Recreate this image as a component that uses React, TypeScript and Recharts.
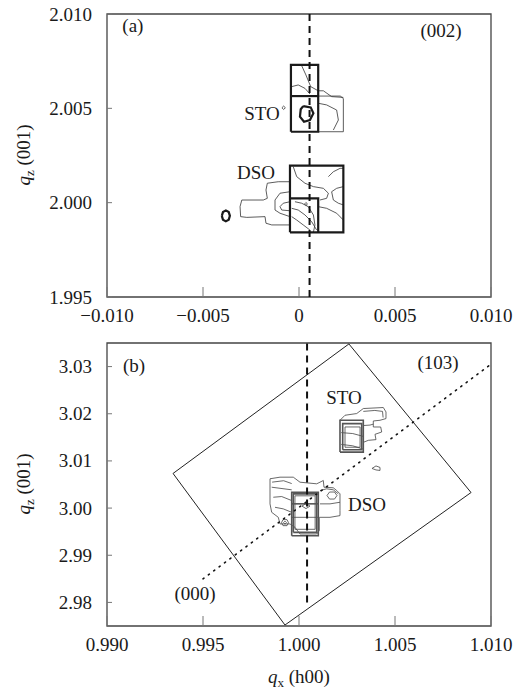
import React from 'react';
import { ComposedChart, Line, XAxis, YAxis, ReferenceLine, ReferenceArea, ReferenceDot } from 'recharts';

type P = [number, number];
const pts = (a: P[]) => a.map(([x, y]) => ({ x, y }));

// ---------- axis ticks ----------
const topXTicks = [-0.01, -0.005, 0, 0.005, 0.01];
const topXLabels = ['\u22120.010', '\u22120.005', '0', '0.005', '0.010'];
const topYTicks = [1.995, 2.0, 2.005, 2.01];
const topYLabels = ['1.995', '2.000', '2.005', '2.010'];
const botXTicks = [0.99, 0.995, 1.0, 1.005, 1.01];
const botXLabels = ['0.990', '0.995', '1.000', '1.005', '1.010'];
const botYTicks = [2.98, 2.99, 3.0, 3.01, 3.02, 3.03];
const botYLabels = ['2.98', '2.99', '3.00', '3.01', '3.02', '3.03'];

// ---------- panel (a): (002) contours ----------
const stoRect: P[] = [[-0.00042, 2.00376], [-0.00042, 2.0073], [0.001, 2.0073], [0.001, 2.00376], [-0.00042, 2.00376]];
const stoMid: P[] = [[-0.00042, 2.00565], [0.001, 2.00565]];
const stoHex: P[] = [[0.00022, 2.00512], [0.00061, 2.00505], [0.00075, 2.00474], [0.00057, 2.00438], [0.00026, 2.00429], [0.00005, 2.00456], [0.00009, 2.00495], [0.00022, 2.00512]];
const stoExt: P[] = [[0.001, 2.00565], [0.00215, 2.00565], [0.00231, 2.00552], [0.00231, 2.00376], [0.001, 2.00376]];
const stoC1: P[] = [[0.00014, 2.00726], [0.00036, 2.00677], [0.00061, 2.00615], [0.001, 2.00593], [0.00127, 2.00593], [0.0017, 2.00562], [0.00231, 2.00558]];
const stoC2: P[] = [[-0.00038, 2.00615], [-0.00004, 2.00624], [0.00031, 2.00606], [0.00057, 2.00576]];
const stoC3: P[] = [[0.001, 2.00527], [0.00144, 2.00518], [0.00196, 2.00491], [0.00205, 2.00438], [0.00179, 2.00385]];
const stoDot: P[] = [[-0.00089, 2.00503], [-0.0008, 2.00512], [-0.00071, 2.00503], [-0.0008, 2.00494], [-0.00089, 2.00503]];

const dsoRect: P[] = [[-0.00047, 1.99843], [-0.00047, 2.00196], [0.00231, 2.00196], [0.00231, 1.99843], [-0.00047, 1.99843]];
const dsoInner: P[] = [[-0.00047, 2.00023], [0.001, 2.00023], [0.001, 1.99843]];
const dsoSpot: P[] = [[-0.00402, 1.9993], [-0.00396, 1.9995], [-0.00381, 1.99959], [-0.00366, 1.9995], [-0.0036, 1.9993], [-0.00366, 1.9991], [-0.00381, 1.99901], [-0.00396, 1.9991], [-0.00402, 1.9993]];
const dsoL1: P[] = [[-0.00047, 2.00111], [-0.00108, 2.00111], [-0.00165, 2.00103], [-0.00172, 2.00067], [-0.00165, 2.00023], [-0.00186, 2.00014], [-0.00298, 2.00014], [-0.00307, 1.99979], [-0.00304, 1.99926], [-0.00272, 1.99922], [-0.00177, 1.99926], [-0.00172, 1.99891], [-0.00142, 1.99882], [-0.00047, 1.99882]];
const dsoL2: P[] = [[-0.00047, 2.00058], [-0.00099, 2.0005], [-0.00125, 2.00014], [-0.00125, 1.99961], [-0.00099, 1.99944], [-0.00047, 1.99926]];
const dsoL3: P[] = [[-0.00047, 2.00005], [-0.00082, 1.99997], [-0.00099, 1.99979], [-0.0009, 1.99961], [-0.00047, 1.99957]];
const dsoA: P[] = [[-0.0003, 2.00191], [-0.00012, 2.00138], [0.00031, 2.00103], [0.00075, 2.00085], [0.00127, 2.00076], [0.00153, 2.0005], [0.00144, 2.00023], [0.00109, 2.00014]];
const dsoB: P[] = [[0.00153, 2.00138], [0.00179, 2.00164], [0.00214, 2.00182], [0.00231, 2.00182]];
const dsoC: P[] = [[0.00231, 2.00085], [0.00196, 2.00076], [0.0017, 2.00058], [0.00179, 2.00014], [0.00205, 1.99997], [0.00231, 1.99988]];
const dsoD: P[] = [[-0.00038, 1.99926], [-0.00012, 1.99908], [0.00022, 1.99882], [0.00057, 1.99855]];
const dsoE: P[] = [[-0.00038, 1.9997], [-0.00004, 1.99961], [0.00031, 1.99935], [0.00066, 1.99899], [0.00092, 1.99855]];
const dsoF: P[] = [[-0.00021, 2.00005], [0.00014, 1.99997], [0.00048, 1.99979], [0.00075, 1.99935], [0.00083, 1.99882], [0.00075, 1.99843]];
const dsoG: P[] = [[0.001, 1.99979], [0.00144, 1.9997], [0.00196, 1.99944], [0.00231, 1.99908]];
const dsoQ: P[] = [[0.00029, 1.99993], [0.00036, 2.00001], [0.00044, 1.99993], [0.00036, 1.99985], [0.00029, 1.99993]];

const topThick = [stoRect, stoMid, stoHex, dsoRect, dsoInner, dsoSpot];
const topThin = [stoExt, stoC1, stoC2, stoC3, stoDot, dsoL1, dsoL2, dsoL3, dsoA, dsoB, dsoC, dsoD, dsoE, dsoF, dsoG, dsoQ];

// ---------- panel (b): (103) contours ----------
const bStoRect: P[] = [[1.002135, 3.011872], [1.002135, 3.018617], [1.003349, 3.018617], [1.003349, 3.011872], [1.002135, 3.011872]];
const bStoRect2: P[] = [[1.002276, 3.012383], [1.002276, 3.017915], [1.003266, 3.017915], [1.003266, 3.012383], [1.002276, 3.012383]];
const bStoRect3: P[] = [[1.002396, 3.0129], [1.002396, 3.0172], [1.00318, 3.0172], [1.00318, 3.0129], [1.002396, 3.0129]];
const bStoOut: P[] = [[1.002135, 3.018617], [1.002396, 3.019681], [1.003005, 3.020043], [1.003349, 3.021106], [1.004391, 3.021319], [1.004531, 3.020383], [1.004531, 3.018979], [1.004219, 3.018617], [1.00387, 3.018468], [1.00387, 3.017191], [1.004255, 3.017191], [1.004307, 3.016128], [1.003958, 3.015638], [1.00401, 3.014511], [1.003609, 3.014362], [1.003385, 3.014]];
const bStoIn1: P[] = [[1.0022, 3.016], [1.0028, 3.0158], [1.003349, 3.0152]];
const bStoIn2: P[] = [[1.0022, 3.0135], [1.0028, 3.0132], [1.003349, 3.0125]];
const bStoIn3: P[] = [[1.003349, 3.0175], [1.0037, 3.0176], [1.00387, 3.0178]];
const bStoIn4: P[] = [[1.003349, 3.0205], [1.00395, 3.0207], [1.00435, 3.0205], [1.00438, 3.0192]];
const bStoLens: P[] = [[1.003802, 3.008404], [1.00401, 3.008936], [1.004219, 3.008617], [1.004219, 3.007979], [1.00401, 3.008085], [1.003802, 3.008404]];

const bDsoOut: P[] = [[0.99849, 3.006213], [0.99901, 3.006553], [0.999703, 3.006553], [1.000052, 3.005489], [1.000922, 3.005149], [1.001094, 3.005489], [1.001266, 3.005851], [1.001302, 3.004426], [1.001786, 3.004298], [1.001964, 3.003723], [1.002135, 3.003021], [1.002135, 2.999468], [1.002135, 2.998404], [1.001615, 2.998043], [1.001057, 2.998043], [1.001057, 2.995213], [1.000922, 2.994511], [1.000052, 2.994511], [0.999792, 2.995915], [0.999531, 2.996638], [0.99901, 2.996638], [0.998922, 2.998043], [0.998578, 2.999106], [0.99849, 3.000894], [0.99849, 3.006213]];
const bDsoRect: P[] = [[0.99962, 2.994149], [0.99962, 3.003362], [1.001005, 3.003362], [1.001005, 2.994149], [0.99962, 2.994149]];
const bDsoRect2: P[] = [[0.999703, 2.994851], [0.999703, 3.003021], [1.000922, 3.003021], [1.000922, 2.994851], [0.999703, 2.994851]];
const bDsoRect3: P[] = [[0.99979, 2.9955], [0.99979, 3.0026], [1.00084, 3.0026], [1.00084, 2.9955], [0.99979, 2.9955]];
const bDsoMid: P[] = [[0.99962, 3.0009], [1.001005, 3.0009]];
const bDsoLow: P[] = [[0.99962, 2.99804], [1.001005, 2.99804]];
const bDsoL1: P[] = [[0.998578, 3.004426], [0.99962, 3.003872]];
const bDsoL2: P[] = [[0.998661, 3.002298], [0.999099, 3.002447], [0.99962, 3.001596]];
const bDsoL3: P[] = [[0.99875, 3.00017], [0.999182, 2.99983], [0.99962, 2.999106]];
const bDsoL4: P[] = [[0.99860, 3.0055], [0.99920, 3.0058], [0.99962, 3.0052]];
const bDsoR1: P[] = [[1.001094, 3.003723], [1.001443, 3.004085], [1.001786, 3.003872], [1.002047, 3.003021]];
const bDsoR2: P[] = [[1.001094, 3.000894], [1.001615, 3.000894], [1.002135, 3.001234]];
const bDsoHex: P[] = [[1.001458, 3.00266], [1.001589, 3.003404], [1.001849, 3.003404], [1.001979, 3.00266], [1.001849, 3.001915], [1.001589, 3.001915], [1.001458, 3.00266]];
const bDsoRing1: P[] = [[0.999089, 2.996915], [0.999167, 2.997553], [0.999375, 2.997553], [0.999453, 2.996915], [0.999375, 2.996277], [0.999167, 2.996277], [0.999089, 2.996915]];
const bDsoRing2: P[] = [[0.999193, 2.996915], [0.999271, 2.997234], [0.999349, 2.996915], [0.999271, 2.996596], [0.999193, 2.996915]];
const bDsoEye: P[] = [[1.000156, 3.000426], [1.000365, 3.000957], [1.000573, 3.000426], [1.000365, 2.999894], [1.000156, 3.000426]];

const scanBox: P[] = [[1.0026, 3.0348], [1.00896, 3.0033], [0.99927, 2.97521], [0.99344, 3.00734], [1.0026, 3.0348]];

const botThick = [bStoRect, bStoRect2, bDsoRect, bDsoRect2, bDsoMid];
const botThin = [bStoRect3, bStoOut, bStoIn1, bStoIn2, bStoIn3, bStoIn4, bStoLens, bDsoOut, bDsoRect3, bDsoLow, bDsoL1, bDsoL2, bDsoL3, bDsoL4, bDsoR1, bDsoR2, bDsoHex, bDsoRing1, bDsoRing2, bDsoEye];

const FONT = '"Liberation Serif", "Times New Roman", serif';
const TXT = '#1a1a1a';
const FS = 19;

const makeXTick = (ticks: number[], labels: string[]) => (props: any) => {
  const { x, y, payload } = props;
  const i = ticks.findIndex((t) => Math.abs(t - payload.value) < 1e-9);
  return (
    <g>
      <line x1={x} x2={x} y1={y} y2={y - 10} stroke="#777" strokeWidth={1} />
      <text x={x} y={y + 25} textAnchor="middle" fontFamily={FONT} fontSize={FS} fill={TXT}>
        {labels[i]}
      </text>
    </g>
  );
};

const makeYTick = (ticks: number[], labels: string[]) => (props: any) => {
  const { x, y, payload } = props;
  const i = ticks.findIndex((t) => Math.abs(t - payload.value) < 1e-9);
  return (
    <g>
      <line x1={x} x2={x + 5} y1={y} y2={y} stroke="#777" strokeWidth={1} />
      <text x={x - 15} y={y + 6.5} textAnchor="end" fontFamily={FONT} fontSize={FS} fill={TXT}>
        {labels[i]}
      </text>
    </g>
  );
};

const annot = (text: string) => (props: any) => {
  const vb = props.viewBox || {};
  const cx = (vb.x || 0) + (vb.width || 0) / 2;
  const cy = (vb.y || 0) + (vb.height || 0) / 2;
  return (
    <text x={cx} y={cy} dy="0.35em" textAnchor="middle" fontFamily={FONT} fontSize={FS} fill={TXT}>
      {text}
    </text>
  );
};

const yTitle = (cy: number) => () => (
  <text x={23} y={cy} transform={`rotate(-90, 23, ${cy})`} textAnchor="middle" fontFamily={FONT} fontSize={FS} fill={TXT} dy="0.35em">
    <tspan fontStyle="italic">q</tspan>
    <tspan fontSize={13} dy={4}>z</tspan>
    <tspan dy={-4}> (001)</tspan>
  </text>
);

const xTitle = () => (
  <text x={299} y={353} textAnchor="middle" fontFamily={FONT} fontSize={FS} fill={TXT}>
    <tspan fontStyle="italic">q</tspan>
    <tspan fontSize={13} dy={4}>x</tspan>
    <tspan dy={-4}> (h00)</tspan>
  </text>
);

export default function App() {
  return (
    <div style={{ position: 'absolute', left: 0, top: 0, width: 513, height: 689, background: '#fff' }}>
      <ComposedChart width={513} height={330} margin={{ top: 14, right: 22, bottom: 3, left: 47 }}>
        <XAxis type="number" dataKey="x" domain={[-0.01, 0.01]} ticks={topXTicks} allowDataOverflow height={30} tickSize={0} tickMargin={0} axisLine={false} tickLine={false} tick={makeXTick(topXTicks, topXLabels)} interval={0} />
        <YAxis type="number" dataKey="y" domain={[1.995, 2.01]} ticks={topYTicks} allowDataOverflow width={60} tickSize={0} tickMargin={0} axisLine={false} tickLine={false} tick={makeYTick(topYTicks, topYLabels)} interval={0} label={{ content: yTitle(155) }} />
        <ReferenceArea x1={-0.01} x2={0.01} y1={1.995} y2={2.01} fill="none" fillOpacity={0} stroke="#444" strokeWidth={1.3} ifOverflow="visible" />
        {topThin.map((c, i) => (
          <Line key={'tt' + i} data={pts(c)} dataKey="y" type="linear" stroke="#333" strokeWidth={0.8} dot={false} activeDot={false} isAnimationActive={false} />
        ))}
        {topThick.map((c, i) => (
          <Line key={'tk' + i} data={pts(c)} dataKey="y" type="linear" stroke="#1a1a1a" strokeWidth={2.2} dot={false} activeDot={false} isAnimationActive={false} />
        ))}
        <ReferenceLine segment={[{ x: 0.00055, y: 1.995 }, { x: 0.00055, y: 2.01 }]} stroke="#111" strokeWidth={2} strokeDasharray="7 5" ifOverflow="visible" />
        <ReferenceDot x={-0.00865} y={2.00942} r={1} fill="none" stroke="none" label={{ content: annot('(a)') }} />
        <ReferenceDot x={0.0074} y={2.00915} r={1} fill="none" stroke="none" label={{ content: annot('(002)') }} />
        <ReferenceDot x={-0.00193} y={2.00475} r={1} fill="none" stroke="none" label={{ content: annot('STO') }} />
        <ReferenceDot x={-0.00224} y={2.00163} r={1} fill="none" stroke="none" label={{ content: annot('DSO') }} />
      </ComposedChart>
      <ComposedChart width={513} height={359} margin={{ top: 13, right: 22, bottom: 33, left: 47 }}>
        <XAxis type="number" dataKey="x" domain={[0.99, 1.01]} ticks={botXTicks} allowDataOverflow height={30} tickSize={0} tickMargin={0} axisLine={false} tickLine={false} tick={makeXTick(botXTicks, botXLabels)} interval={0} label={{ content: xTitle }} />
        <YAxis type="number" dataKey="y" domain={[2.975, 3.035]} ticks={botYTicks} allowDataOverflow width={60} tickSize={0} tickMargin={0} axisLine={false} tickLine={false} tick={makeYTick(botYTicks, botYLabels)} interval={0} label={{ content: yTitle(154) }} />
        <ReferenceArea x1={0.99} x2={1.01} y1={2.975} y2={3.035} fill="none" fillOpacity={0} stroke="#444" strokeWidth={1.3} ifOverflow="visible" />
        <Line data={pts(scanBox)} dataKey="y" type="linear" stroke="#222" strokeWidth={1} dot={false} activeDot={false} isAnimationActive={false} />
        {botThin.map((c, i) => (
          <Line key={'bt' + i} data={pts(c)} dataKey="y" type="linear" stroke="#444" strokeWidth={0.8} dot={false} activeDot={false} isAnimationActive={false} />
        ))}
        {botThick.map((c, i) => (
          <Line key={'bk' + i} data={pts(c)} dataKey="y" type="linear" stroke="#555" strokeWidth={1.6} dot={false} activeDot={false} isAnimationActive={false} />
        ))}
        <ReferenceLine segment={[{ x: 0.995, y: 2.985 }, { x: 1.01, y: 3.0305 }]} stroke="#111" strokeWidth={1.6} strokeDasharray="1.2 5.5" strokeLinecap="round" ifOverflow="visible" />
        <ReferenceLine segment={[{ x: 1.00042, y: 2.98 }, { x: 1.00042, y: 3.035 }]} stroke="#111" strokeWidth={2} strokeDasharray="7 5" ifOverflow="visible" />
        <ReferenceDot x={0.991406} y={3.03032} r={1} fill="none" stroke="none" label={{ content: annot('(b)') }} />
        <ReferenceDot x={1.00724} y={3.03096} r={1} fill="none" stroke="none" label={{ content: annot('(103)') }} />
        <ReferenceDot x={1.002344} y={3.02351} r={1} fill="none" stroke="none" label={{ content: annot('STO') }} />
        <ReferenceDot x={1.003542} y={3.000745} r={1} fill="none" stroke="none" label={{ content: annot('DSO') }} />
        <ReferenceDot x={0.994583} y={2.98202} r={1} fill="none" stroke="none" label={{ content: annot('(000)') }} />
      </ComposedChart>
    </div>
  );
}
